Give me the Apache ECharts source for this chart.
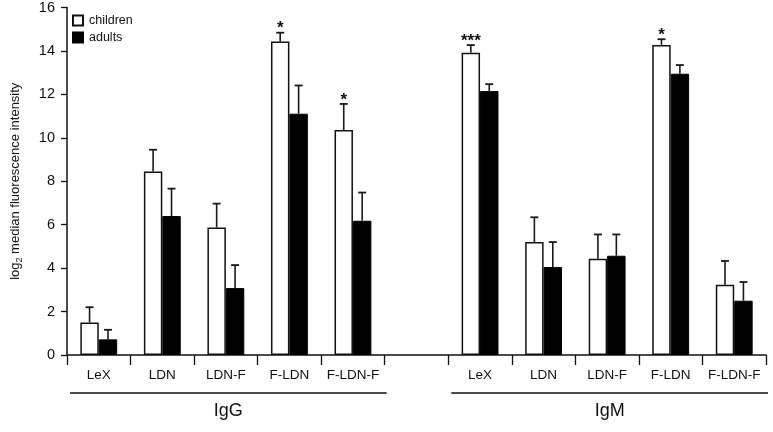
<!DOCTYPE html>
<html>
<head>
<meta charset="utf-8">
<script src="https://cdn.jsdelivr.net/npm/echarts@6/dist/echarts.min.js"></script>
<style>html,body{margin:0;padding:0;background:#fff}#c{width:773px;height:432px}</style>
</head>
<body>
<div id="c"></div>
<script>
// ---- data ----
const categories = ['LeX', 'LDN', 'LDN-F', 'F-LDN', 'F-LDN-F'];
const groups = ['IgG', 'IgM'];
const seriesNames = ['children', 'adults'];
const yTicks = [0, 2, 4, 6, 8, 10, 12, 14, 16];

const childrenIgG = [1.5, 8.45, 5.87, 14.44, 10.36];
const childrenIgGErr = [0.7, 1.0, 1.1, 0.4, 1.2];
const adultsIgG = [0.72, 6.4, 3.08, 11.11, 6.18];
const adultsIgGErr = [0.44, 1.26, 1.06, 1.3, 1.3];

const childrenIgM = [13.92, 5.2, 4.43, 14.27, 3.23];
const childrenIgMErr = [0.35, 1.14, 1.12, 0.27, 1.1];
const adultsIgM = [12.15, 4.05, 4.57, 12.95, 2.5];
const adultsIgMErr = [0.32, 1.15, 0.98, 0.4, 0.86];

const starsChildrenIgG = ['', '', '', '*', '*'];
const starsChildrenIgM = ['***', '', '', '*', ''];

// ---- build ----
const FONT = "'Liberation Sans', Arial, sans-serif";
const axisData = [].concat(
  categories.map(c => groups[0] + '|' + c),
  ['gap|'],
  categories.map(c => groups[1] + '|' + c)
);
const children = [].concat(childrenIgG, ['-'], childrenIgM);
const adults = [].concat(adultsIgG, ['-'], adultsIgM);
const childrenErr = [].concat(childrenIgGErr, [null], childrenIgMErr);
const adultsErr = [].concat(adultsIgGErr, [null], adultsIgMErr);
const childrenStars = [].concat(starsChildrenIgG, [''], starsChildrenIgM);

const CAT_GAP = 0.42;

function errData(vals, errs, stars) {
  const out = [];
  vals.forEach((v, i) => {
    if (typeof v === 'number') out.push([i, v, errs[i], stars ? stars[i] : '']);
  });
  return out;
}

function makeErrRender(side) {
  return function (params, api) {
    const idx = api.value(0);
    const v = api.value(1);
    const e = api.value(2);
    const band = api.size([1, 0])[0];
    const bw = band * (1 - CAT_GAP) / 2;
    const c = api.coord([idx, v]);
    const top = api.coord([idx, v + e]);
    const x = c[0] + side * bw / 2;
    const cap = 4;
    return {
      type: 'group',
      children: [
        { type: 'line', shape: { x1: x, y1: c[1], x2: x, y2: top[1] }, style: { stroke: '#1a1a1a', lineWidth: 1.6 } },
        { type: 'line', shape: { x1: x - cap, y1: top[1], x2: x + cap, y2: top[1] }, style: { stroke: '#1a1a1a', lineWidth: 1.8 } }
      ]
    };
  };
}

const childrenErrData = errData(children, childrenErr, childrenStars);
const adultsErrData = errData(adults, adultsErr, null);

const groupRanges = [[0, 4], [6, 10]];

const chart = echarts.init(document.getElementById('c'));
chart.setOption({
  animation: false,
  backgroundColor: '#fff',
  textStyle: { fontFamily: FONT },
  grid: { left: 62, right: 7, top: 7, bottom: 77, containLabel: false },
  legend: {
    data: seriesNames,
    orient: 'vertical',
    left: 67, top: 9,
    itemWidth: 10, itemHeight: 10, itemGap: 4,
    icon: 'rect',
    textStyle: { fontSize: 12.5, color: '#111', fontFamily: FONT, padding: [0, 0, 0, 1] }
  },
  xAxis: {
    type: 'category',
    data: axisData,
    axisLine: { lineStyle: { color: '#111', width: 1.5 } },
    axisTick: { show: true, length: 10, interval: 0, lineStyle: { color: '#111', width: 1.3 } },
    axisLabel: {
      interval: 0, fontSize: 13.5, color: '#111', margin: 13, fontFamily: FONT,
      formatter: v => v.split('|')[1] || ''
    },
    splitLine: { show: false }
  },
  yAxis: {
    type: 'value',
    min: yTicks[0], max: yTicks[yTicks.length - 1], interval: 2,
    name: '{a|log}{b|2}{a| median fluorescence intensity}',
    nameLocation: 'middle',
    nameGap: 43,
    nameRotate: 90,
    nameTextStyle: {
      rich: {
        a: { fontSize: 13, color: '#111', fontFamily: FONT, lineHeight: 18 },
        b: { fontSize: 9, color: '#111', fontFamily: FONT, lineHeight: 18, verticalAlign: 'bottom', padding: [7, 0, 0, 0] }
      }
    },
    axisLine: { show: true, lineStyle: { color: '#111', width: 1.5 } },
    axisTick: { show: true, length: 6, lineStyle: { color: '#111', width: 1.3 } },
    axisLabel: { fontSize: 14.5, color: '#111', margin: 12, fontFamily: FONT },
    splitLine: { show: false }
  },
  series: [
    {
      name: seriesNames[0], type: 'bar', data: children,
      barGap: '0%', barCategoryGap: (CAT_GAP * 100) + '%',
      itemStyle: { color: '#fff', borderColor: '#111', borderWidth: 1.5 }
    },
    {
      name: seriesNames[1], type: 'bar', data: adults,
      barGap: '0%', barCategoryGap: (CAT_GAP * 100) + '%',
      itemStyle: { color: '#000', borderColor: '#000', borderWidth: 1 }
    },
    {
      type: 'custom', name: 'childrenErr', data: childrenErrData, z: 5, clip: false,
      encode: { x: 0, y: 1 },
      renderItem: function (params, api) {
        const g = makeErrRender(-1)(params, api);
        const item = childrenErrData[params.dataIndex];
        if (item[3]) {
          const top = api.coord([item[0], item[1] + item[2]]);
          const band = api.size([1, 0])[0];
          const bw = band * (1 - CAT_GAP) / 2;
          g.children.push({
            type: 'text',
            style: {
              text: item[3], x: top[0] - bw / 2, y: top[1] - 4,
              align: 'center', verticalAlign: 'middle',
              fontSize: 17, fontWeight: 'bold', fontFamily: FONT, fill: '#111'
            }
          });
        }
        return g;
      }
    },
    {
      type: 'custom', name: 'adultsErr', data: adultsErrData, z: 5, clip: false,
      encode: { x: 0, y: 1 },
      renderItem: makeErrRender(1)
    },
    {
      type: 'custom', name: 'groups', clip: false, z: 5,
      data: groupRanges.map(r => [r[0], 0, r[1]]),
      encode: { x: 0, y: 1 },
      renderItem: function (params, api) {
        const band = api.size([1, 0])[0];
        const a = api.coord([api.value(0), 0]);
        const b = api.coord([api.value(2), 0]);
        const x1 = a[0] - band / 2 + 3;
        const x2 = b[0] + band / 2 + 2;
        const y = a[1] + 38;
        return {
          type: 'group',
          children: [
            { type: 'line', shape: { x1: x1, y1: y, x2: x2, y2: y }, style: { stroke: '#111', lineWidth: 1.5 } },
            {
              type: 'text',
              style: {
                text: groups[params.dataIndex], x: (x1 + x2) / 2, y: y + 18,
                align: 'center', verticalAlign: 'middle',
                fontSize: 18, fontFamily: FONT, fill: '#111'
              }
            }
          ]
        };
      }
    }
  ]
});
</script>
</body>
</html>
